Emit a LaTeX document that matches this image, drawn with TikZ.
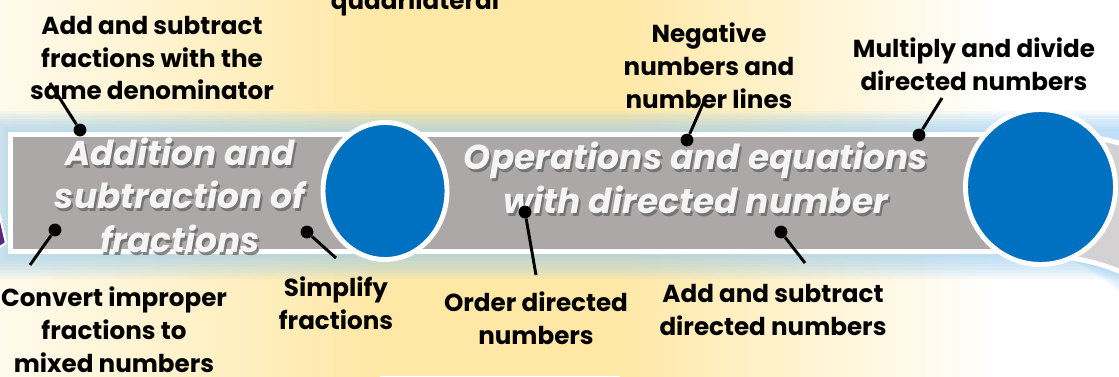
\documentclass[tikz,border=0pt]{standalone}
\usepackage{fontspec}
\setmainfont{Poppins}
\usetikzlibrary{positioning,calc}
\definecolor{bandgray}{RGB}{172,168,168}
\definecolor{bandlight}{RGB}{211,209,209}
\definecolor{topicblue}{RGB}{0,112,192}
\definecolor{glowblue}{RGB}{150,204,242}
\definecolor{paleyellow}{RGB}{255,232,166}
\definecolor{creamwhite}{RGB}{255,250,236}
\definecolor{stepviolet}{RGB}{90,40,130}
\definecolor{shadowgray}{RGB}{105,105,105}

\begin{document}
\begin{tikzpicture}[x=0.025cm, y=-0.025cm,
    skill/.style={font=\fontsize{17.5}{23.4}\selectfont\bfseries, align=center, text=black, inner sep=0pt},
    topic/.style={font=\fontsize{24.5}{31}\selectfont\bfseries\itshape, align=center, inner sep=0pt},
    topictext/.style={topic, text=white!96!black},
    topicshadow/.style={topic, text=shadowgray, opacity=0.8},
    pin/.style={circle, fill=black, inner sep=0pt, minimum size=0.32cm},
    stick/.style={line width=2.1pt},
    rim/.style={draw=white, line width=3.5pt}
]

% === BACKGROUND ===
% cream on the left, yellow in the middle, white on the right
\path[use as bounding box] (0,0) rectangle (1119,376);
\fill[left color=creamwhite, right color=paleyellow] (0,0) rectangle (380,376);
\fill[paleyellow] (380,0) rectangle (620,376);
\fill[left color=paleyellow, right color=white] (620,0) rectangle (1000,376);
\fill[white] (1000,0) rectangle (1119,376);

% Blue glow round the band
\foreach \k in {1,...,8} {
    \fill[glowblue, opacity=0.1] (8-\k*2.5, 131-\k*2.5) rectangle (1119, 255+\k*3);
    \fill[glowblue, opacity=0.1] (1000,250) .. controls (1070,255) .. (1125,268+\k*3.5) -- (1125,250) -- cycle;
}

% === THE BAND ===
% lighter part running on to the right
\filldraw[fill=bandlight, rim] (1030,135) -- (1085,137) .. controls (1100,138) .. (1130,146)
    -- (1130,276) .. controls (1100,262) and (1080,258) .. (1030,253) -- cycle;
% main gray part
\filldraw[fill=bandgray, rim] (10.5,134.5) rectangle (1050,251.5);
% previous step poking in at the left
\filldraw[fill=stepviolet, draw=white, line width=1.5pt] (-5,195) -- (6,243) -- (-5,250) -- cycle;

% Step circles
\filldraw[fill=topicblue, rim] (385,191) ellipse [x radius=62, y radius=68.5];
\filldraw[fill=topicblue, rim] (1040.5,187) ellipse [x radius=75, y radius=77.5];

% === TOPIC TITLES (with drop shadow) ===
\node[topicshadow] (fractions-shadow) at (182,198) {Addition and\\subtraction of\\fractions};
\node[topictext] (fractions) at (180,195) {Addition and\\subtraction of\\fractions};
\node[topicshadow] (directed-shadow) at (698,181) {Operations and equations\\with directed number};
\node[topictext] (directed) at (696,178) {Operations and equations\\with directed number};

% === SKILLS ABOVE THE BAND ===
\node[skill, anchor=base] (quad) at (415,9) {quadrilateral};

\node[skill] (fracsame) at (152,58) {Add and subtract\\fractions with the\\same denominator};
\node[pin] (fracsame-pin) at (80,130) {};
\coordinate (fracsame-end) at (50,83);
\draw[stick] (fracsame-pin) -- (fracsame-end);

\node[skill] (negative) at (709,66) {Negative\\numbers and\\number lines};
\node[pin] (negative-pin) at (687,140) {};
\coordinate (negative-end) at (706,97);
\draw[stick] (negative-pin) -- (negative-end);

\node[skill] (multiply) at (974,64) {Multiply and divide\\directed numbers};
\node[pin] (multiply-pin) at (919,135) {};
\coordinate (multiply-end) at (942,98);
\draw[stick] (multiply-pin) -- (multiply-end);

% === SKILLS BELOW THE BAND ===
\node[skill] (convert) at (114,330) {Convert improper\\fractions to\\mixed numbers};
\node[pin] (convert-pin) at (55,230) {};
\coordinate (convert-end) at (30,265);
\draw[stick] (convert-pin) -- (convert-end);

\node[skill] (simplify) at (336,303) {Simplify\\fractions};
\node[pin] (simplify-pin) at (307,232) {};
\coordinate (simplify-end) at (336,258);
\draw[stick] (simplify-pin) -- (simplify-end);

\node[skill] (order) at (536,318) {Order directed\\numbers};
\node[pin] (order-pin) at (525,212) {};
\coordinate (order-end) at (536,275);
\draw[stick] (order-pin) -- (order-end);

\node[skill] (adddir) at (773,310) {Add and subtract\\directed numbers};
\node[pin] (adddir-pin) at (781,232) {};
\coordinate (adddir-end) at (805,263);
\draw[stick] (adddir-pin) -- (adddir-end);

\end{tikzpicture}
\end{document}
